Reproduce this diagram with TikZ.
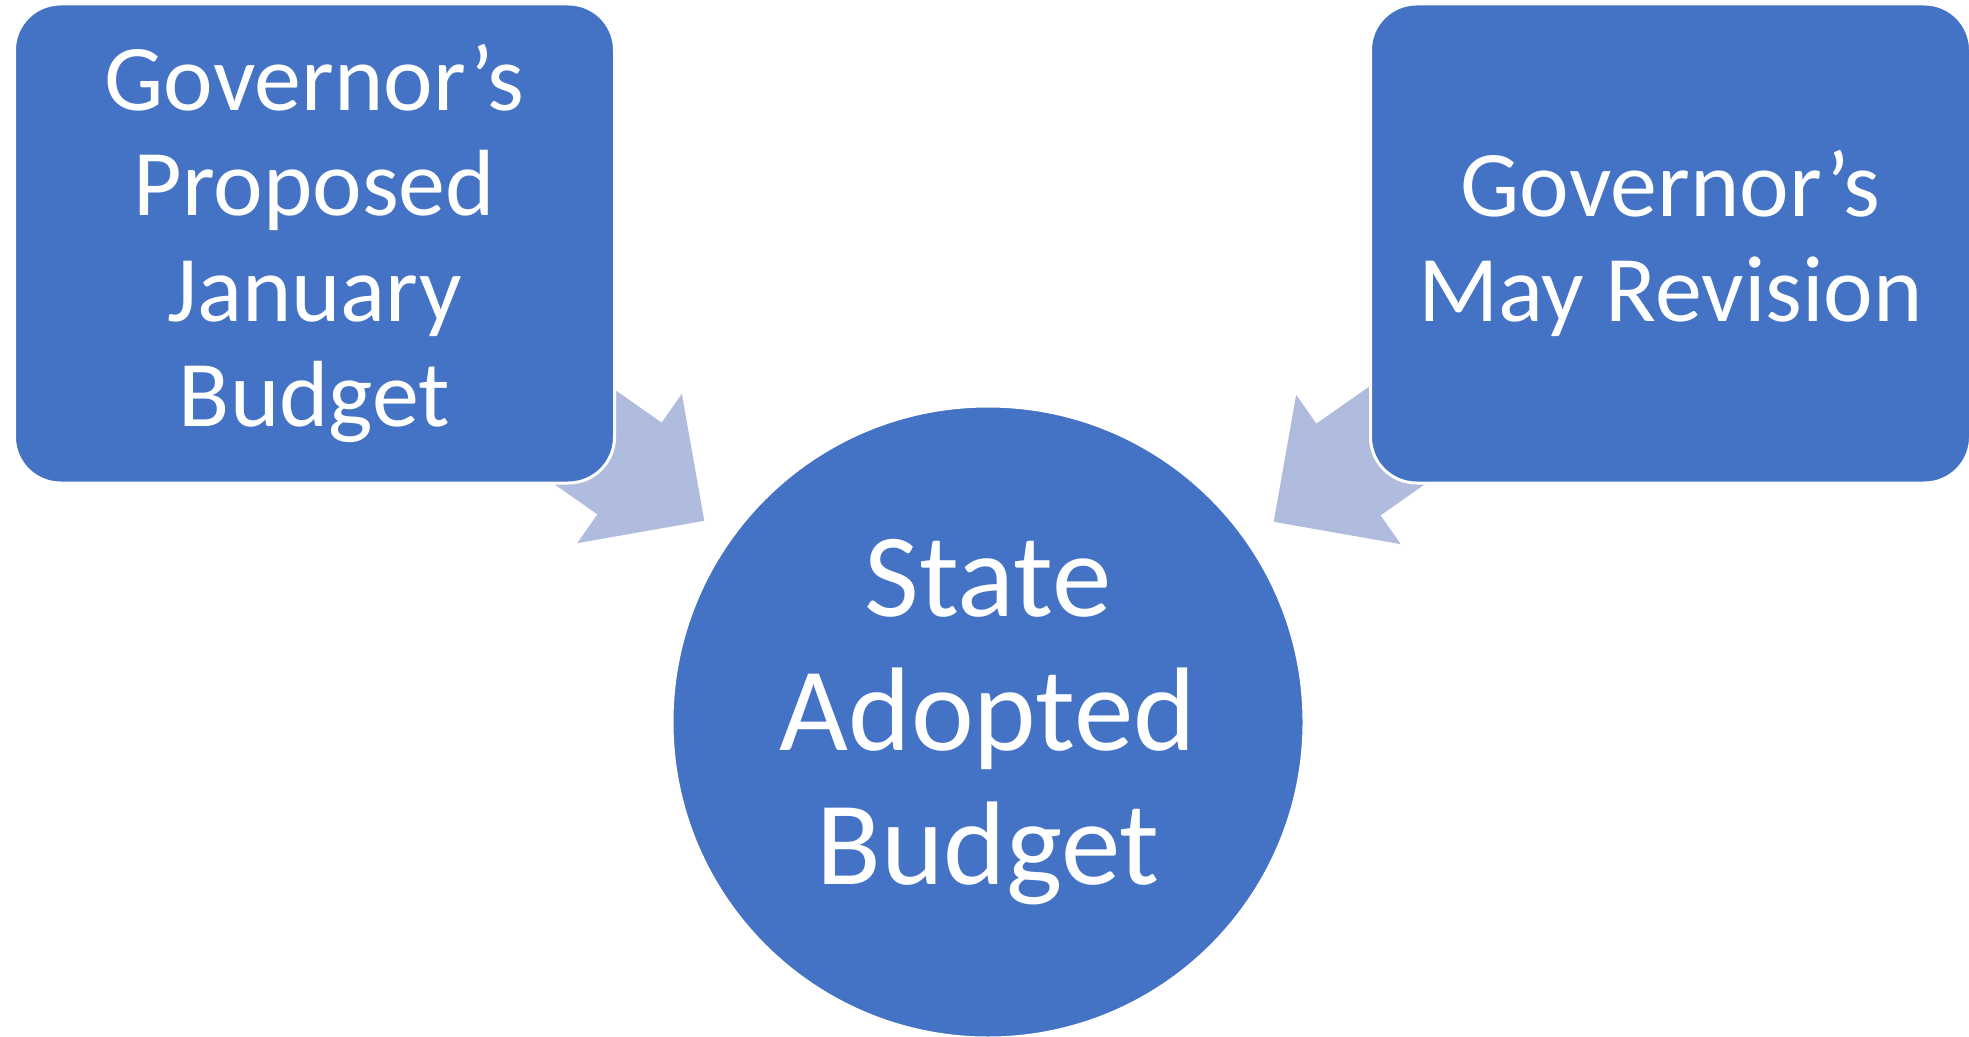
\documentclass[tikz,border=0pt]{standalone}
\usepackage{fontspec}
\setmainfont{Carlito}
\usetikzlibrary{shapes.arrows}
\usetikzlibrary{positioning}
\definecolor{stepblue}{HTML}{4472C4}
\definecolor{flowblue}{RGB}{175,188,222}

\begin{document}
\begin{tikzpicture}
[x=0.5pt,y=-0.5pt,
every node/.style={fill=stepblue,draw=white,line width=1.5pt,text=white,align=center},
budgetbox/.style={rectangle,rounded corners=23pt,minimum width=300pt,minimum height=239.5pt,font=\fontsize{47}{52.7}\selectfont},
budgetcircle/.style={circle,minimum size=316pt,font=\fontsize{59.5}{67}\selectfont},
flow/.style={single arrow,fill=flowblue,draw=none,minimum height=100pt,
  single arrow head extend=17.6pt,single arrow tip angle=90,inner xsep=0pt,inner ysep=27.25pt,anchor=tip}]
\useasboundingbox (0,0) rectangle (1969,1037);

% arrows first, the boxes cover their tails
\node[flow,rotate=-35] (JanToAdopted) at (706,522) {};
\node[flow,rotate=-145] (MayToAdopted) at (1272,523) {};

\node[budgetbox] (January) at (314.5,243.5) {Governor’s\\Proposed\\January\\Budget};
\node[budgetbox] (May) at (1670.5,243.5) {Governor’s\\May Revision};
\node[budgetcircle] (Adopted) at (988,722) {State\\Adopted\\Budget};

%\path (January) edge (Adopted)
%	(May) edge (Adopted);
\end{tikzpicture}
\end{document}
